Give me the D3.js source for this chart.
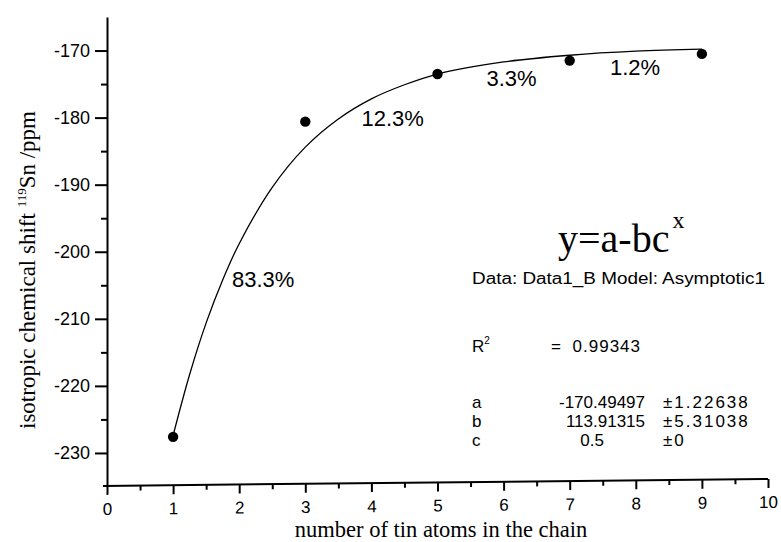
<!DOCTYPE html>
<html>
<head>
<meta charset="utf-8">
<script src="https://cdn.jsdelivr.net/npm/d3@7"></script>
<style>
	body { margin: 0; background: #fff; }
	svg { display: block; }
	.sans { font-family: "Liberation Sans", Arial, sans-serif; }
	.serif { font-family: "Liberation Serif", "Times New Roman", serif; }
</style>
</head>
<body>
<script>
//number of tin atoms vs measured shift
var chainLength = [1, 3, 5, 7, 9];
var shiftPpm = [-227.6, -180.6, -173.5, -171.5, -170.5];

//fitted curve as it runs across the plot
var fitX = [1, 1.25, 1.5, 1.75, 2, 2.5, 3, 3.5, 4, 4.5, 5, 6, 7, 8, 9];
var fitY = [-227.4, -218.3, -210.6, -204.2, -198.8, -190.4, -184.4, -180.2, -177.2, -175.1, -173.5, -171.7, -170.7, -170.1, -169.8];

//step labels between the points
var pctLabels = ["83.3%", "12.3%", "3.3%", "1.2%"];
var pctAt = [[1.89, -205.3], [3.85, -181.2], [5.74, -175.3], [7.61, -173.6]];

//fit report
var fitParams = ["a", "b", "c"];
var fitValues = ["-170.49497", "113.91315", "0.5"];
var fitErrors = ["\u00b11.22638", "\u00b15.31038", "\u00b10"];
var rSquared = "0.99343";

var xTicks = [0, 1, 2, 3, 4, 5, 6, 7, 8, 9, 10];
var xMinor = [0.5, 1.5, 2.5, 3.5, 4.5, 5.5, 6.5, 7.5, 8.5, 9.5];
var yTicks = [-230, -220, -210, -200, -190, -180, -170];
var yMinor = [-225, -215, -205, -195, -185, -175];

var width = 781, height = 542;

var svg = d3.select("body").append("svg")
.attr("width", width)
.attr("height", height);

svg.append("rect")
.attr("width", width)
.attr("height", height)
.attr("fill", "#fff");

var x = d3.scaleLinear()
.domain([0, 10])
.range([107, 768]);

var y = d3.scaleLinear()
.domain([-235, -165])
.range([486.5, 17]);

//y axis, minor first
svg.append("g")
.attr("transform", "translate(107,0)")
.call(d3.axisLeft(y).tickValues(yMinor).tickSize(6).tickSizeOuter(0).tickFormat(""))
.call(function(g){ g.select(".domain").remove(); });

var yAxis = svg.append("g")
.attr("class", "sans")
.attr("transform", "translate(107,0)")
.call(d3.axisLeft(y).tickValues(yTicks).tickSize(12).tickSizeOuter(0).tickPadding(5)
	.tickFormat(function(d){ return String(d); }));

yAxis.attr("font-family", null)
.selectAll("text")
.attr("font-size", 18)
.attr("fill", "#000");

//x axis, the scan leans a little so the axis rises to the right
var xGroup = svg.append("g")
.attr("class", "sans")
.attr("transform", "translate(0,487) skewY(-0.6)");

xGroup.append("g")
.call(d3.axisBottom(x).tickValues(xMinor).tickSize(5).tickSizeOuter(0).tickFormat(""))
.call(function(g){ g.select(".domain").remove(); });

var xAxis = xGroup.append("g")
.call(d3.axisBottom(x).tickValues(xTicks).tickSize(9).tickSizeOuter(0).tickPadding(8));

xAxis.attr("font-family", null)
.selectAll("text")
.attr("font-size", 17)
.attr("fill", "#000");

//x axis line pokes out a bit left of the y axis
xAxis.select(".domain")
.attr("d", "M" + (x.range()[0] - 4) + ",0H" + x.range()[1]);

svg.selectAll(".domain, .tick line")
.attr("stroke", "#000")
.attr("stroke-width", 2);

//fit line
var line = d3.line()
.x(function(d){ return x(d[0]); })
.y(function(d){ return y(d[1]); })
.curve(d3.curveCatmullRom);

svg.append("path")
.datum(fitX.map(function(d, i){ return [d, fitY[i]]; }))
.attr("d", line)
.attr("fill", "none")
.attr("stroke", "#000")
.attr("stroke-width", 1.3);

//measured points
svg.selectAll("circle.pt")
.data(chainLength)
.enter()
.append("circle")
.attr("class", "pt")
.attr("cx", function(d){ return x(d); })
.attr("cy", function(d, i){ return y(shiftPpm[i]); })
.attr("r", 5.2)
.attr("fill", "#000");

svg.selectAll("text.pct")
.data(pctLabels)
.enter()
.append("text")
.attr("class", "pct sans")
.attr("x", function(d, i){ return x(pctAt[i][0]); })
.attr("y", function(d, i){ return y(pctAt[i][1]); })
.attr("font-size", 22)
.text(function(d){ return d; });

//axis titles
svg.append("text")
.attr("class", "serif")
.attr("x", 441)
.attr("y", 537)
.attr("text-anchor", "middle")
.attr("font-size", 22.5)
.text("number of tin atoms in the chain");

var yTitle = svg.append("text")
.attr("class", "serif")
.attr("transform", "translate(35,270) rotate(-90)")
.attr("text-anchor", "middle")
.attr("font-size", 23);
yTitle.append("tspan").text("isotropic chemical shift ");
yTitle.append("tspan").attr("font-size", 13).attr("dy", -9).text("119");
yTitle.append("tspan").attr("dy", 9).text("Sn /ppm");

//fit report block
var eq = svg.append("text")
.attr("class", "serif")
.attr("x", 558)
.attr("y", 252)
.attr("font-size", 40)
.text("y=a-bc");
eq.append("tspan")
.attr("font-size", 24)
.attr("dx", 3)
.attr("dy", -24)
.text("x");

svg.append("text")
.attr("class", "sans")
.attr("x", 472)
.attr("y", 284)
.attr("font-size", 16)
.attr("textLength", 293)
.attr("lengthAdjust", "spacingAndGlyphs")
.text("Data: Data1_B Model: Asymptotic1");

var r2 = svg.append("text")
.attr("class", "sans")
.attr("x", 472)
.attr("y", 352)
.attr("font-size", 17)
.text("R");
r2.append("tspan")
.attr("font-size", 10)
.attr("dy", -8)
.text("2");

svg.append("text")
.attr("class", "sans")
.attr("x", 551)
.attr("y", 352)
.attr("font-size", 17)
.text("=");

svg.append("text")
.attr("class", "sans")
.attr("x", 641)
.attr("y", 352)
.attr("font-size", 17)
.attr("text-anchor", "end")
.attr("letter-spacing", 1)
.text(rSquared);

var rows = svg.selectAll("g.row")
.data(fitParams)
.enter()
.append("g")
.attr("class", "row sans")
.attr("font-size", 17)
.attr("transform", function(d, i){ return "translate(0," + (408 + i * 19) + ")"; });

rows.append("text")
.attr("x", 472)
.text(function(d){ return d; });

rows.append("text")
.attr("x", function(d, i){ return fitValues[i].length > 4 ? 645 : 604; })
.attr("text-anchor", "end")
.text(function(d, i){ return fitValues[i]; });

rows.append("text")
.attr("x", 663)
.attr("letter-spacing", 2)
.text(function(d, i){ return fitErrors[i]; });
</script>
</body>
</html>
